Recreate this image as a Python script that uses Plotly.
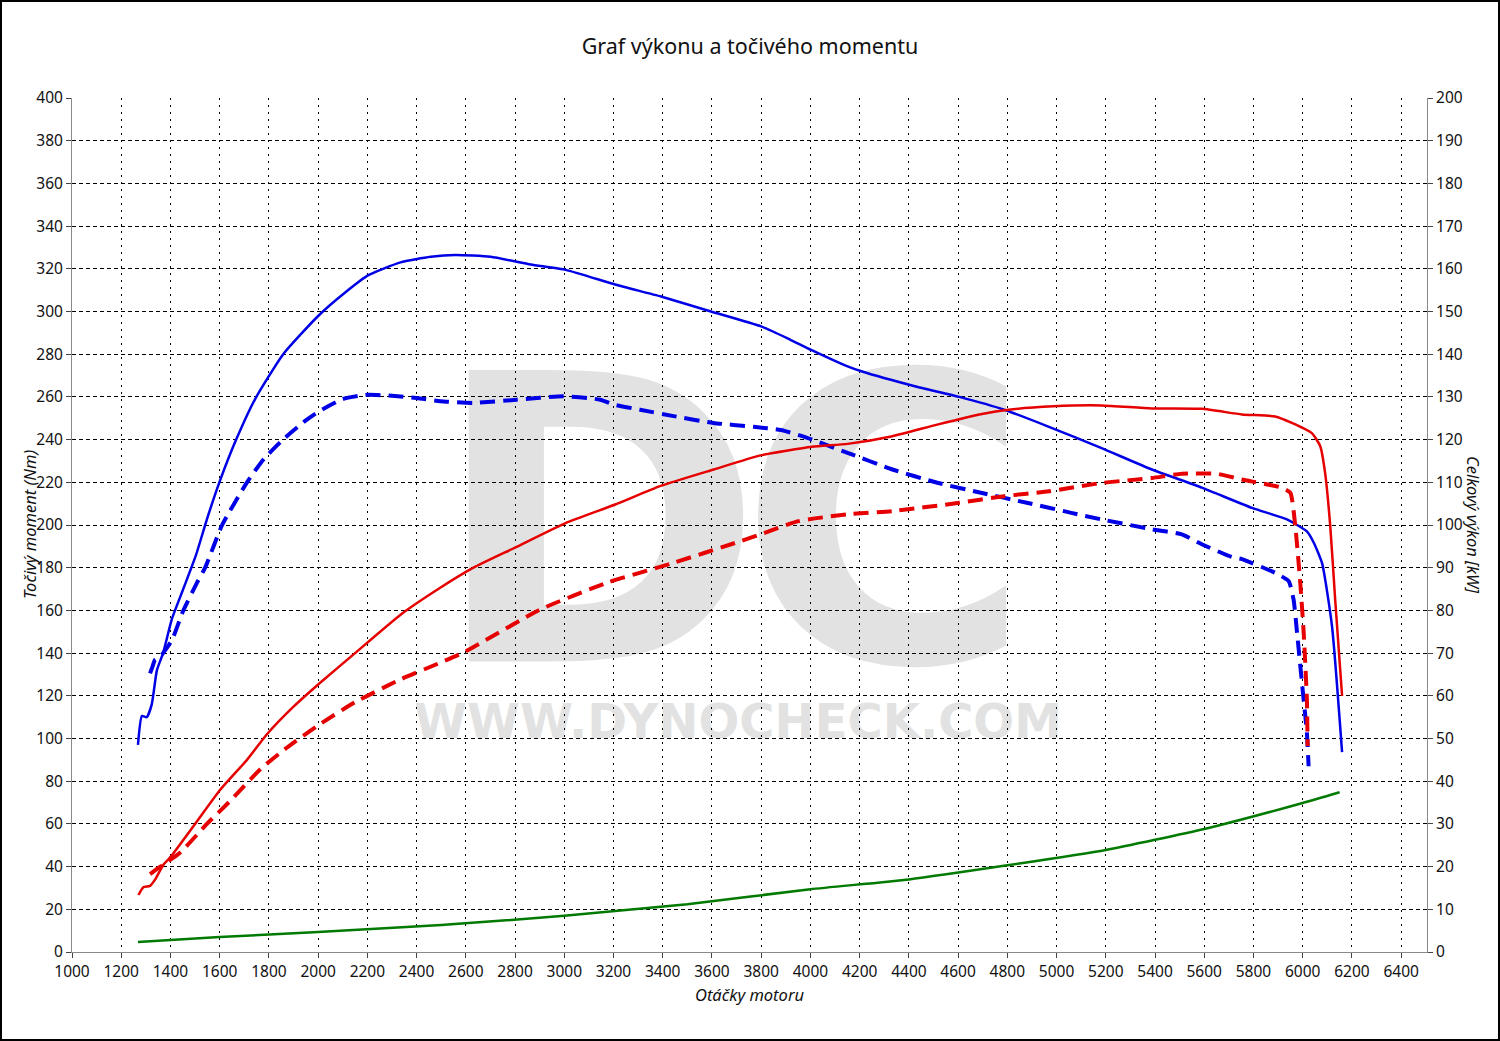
import plotly.graph_objects as go

# ---- data ----
rpm_tq_tuned = [1268, 1284, 1304, 1324, 1345, 1370, 1406, 1452, 1504, 1549, 1602, 1667, 1744, 1858,
                2001, 2111, 2204, 2335, 2457, 2558, 2701, 2864, 3006, 3210, 3393, 3596, 3800,
                3915, 4003, 4151, 4207, 4424, 4605, 4787, 4969, 5183, 5387, 5590, 5794, 5936, 6017,
                6045, 6079, 6119, 6160]
tq_tuned = [97, 110.5, 110, 116, 132, 140, 156, 170, 186, 203, 221, 240, 259, 280,
            298, 309, 317, 323, 325.6, 326.5, 325.6, 322, 319.5, 312.5, 307, 300, 293,
            287, 282, 274.3, 272, 265, 260, 254, 246, 236, 226, 217.5, 208, 202.6, 197,
            191.7, 182, 152.7, 93.6]

rpm_tq_stock = [1317, 1325, 1338, 1352, 1370, 1406, 1451, 1508, 1541, 1610, 1711, 1780, 1857, 1950,
                2000, 2100, 2200, 2300, 2400, 2496, 2631, 2807, 2996, 3146, 3200, 3308, 3444, 3606,
                3769, 3880, 3970, 4151, 4333, 4515, 4697, 4879, 5060, 5183, 5387, 5509, 5590, 5712,
                5753, 5888, 5943, 5963, 5977, 5997, 6017, 6024]
tq_stock = [130.5, 133, 137, 137.5, 140, 146, 159.6, 173, 180, 200, 220, 231, 240, 249,
            253, 259, 261, 260.5, 259.5, 258, 257.2, 258.7, 260.3, 258.7, 256.4, 254, 251, 247.8,
            246, 244.5, 241.5, 233.8, 226, 219.8, 215, 210.4, 205.7, 202.6, 198, 195.6, 191, 185,
            184, 177.6, 173.7, 165, 149.6, 126, 102.8, 87]

rpm_pw_tuned = [1270, 1290, 1317, 1338, 1372, 1399, 1494, 1602, 1711, 1792, 1901, 2007, 2150, 2335,
                2496, 2631, 2800, 3007, 3207, 3389, 3607, 3797, 4006, 4151, 4333, 4515, 4697, 4805,
                4987, 5183, 5387, 5590, 5753, 5888, 5956, 6037, 6071, 6091, 6112, 6132, 6160]
pw_tuned = [13.35, 15.15, 15.5, 17, 20.5, 22.15, 29.5, 38, 45, 51, 57.5, 63, 70, 79,
            85.3, 90, 94.7, 100.5, 104.8, 109.1, 113, 116.3, 118.3, 119, 120.8, 123.5, 126, 127,
            127.8, 128, 127.3, 127.2, 125.9, 125.4, 123.9, 121.5, 118.5, 112.2, 99.7, 82.5, 60]

rpm_pw_stock = [1317, 1340, 1372, 1440, 1548, 1643, 1765, 1874, 2007, 2150, 2335, 2496, 2589, 2904,
                3175, 3444, 3697, 3797, 3951, 4151, 4333, 4605, 4787, 4969, 5183, 5387, 5509, 5651,
                5753, 5916, 5950, 5970, 5990, 6004, 6017, 6020]
pw_stock = [18.25, 19.25, 20.5, 23.3, 30, 35.4, 42.8, 47.9, 53.35, 58.5, 63.85, 67.75, 70.1, 80.25,
            86.5, 91.15, 95.85, 97.8, 100.9, 102.5, 103.25, 105.2, 106.75, 107.9, 109.85, 111, 112, 112,
            110.65, 108.7, 107.5, 99.7, 86.5, 74.8, 59.2, 48.25]

rpm_loss = [1268, 1600, 2000, 2500, 3000, 3500, 4000, 4400, 4800, 5200, 5600, 6000, 6150]
pw_loss = [2.35, 3.5, 4.7, 6.3, 8.5, 11.2, 14.7, 17, 20.3, 23.9, 28.8, 34.9, 37.4]

x_ticks = list(range(1000, 6401, 200))

FONT = "Noto Sans, Open Sans, DejaVu Sans, sans-serif"
BLUE = "#0000e6"
RED = "#e60000"
GREEN = "#007a00"
DASH = "15px,8px"
SHAPE = "spline"
SMOOTH = 0.5

fig = go.Figure()
fig.add_trace(go.Scatter(x=rpm_pw_tuned, y=pw_tuned, yaxis="y2", mode="lines",
                         line=dict(color=RED, width=2.5, shape=SHAPE, smoothing=SMOOTH),
                         name="Výkon po úpravě"))
fig.add_trace(go.Scatter(x=rpm_pw_stock, y=pw_stock, yaxis="y2", mode="lines",
                         line=dict(color=RED, width=4, dash=DASH, shape=SHAPE, smoothing=SMOOTH),
                         name="Výkon sériový"))
fig.add_trace(go.Scatter(x=rpm_loss, y=pw_loss, yaxis="y2", mode="lines",
                         line=dict(color=GREEN, width=2.5, shape=SHAPE, smoothing=SMOOTH),
                         name="Ztrátový výkon"))
fig.add_trace(go.Scatter(x=rpm_tq_tuned, y=tq_tuned, mode="lines",
                         line=dict(color=BLUE, width=2.5, shape=SHAPE, smoothing=SMOOTH),
                         name="Moment po úpravě"))
fig.add_trace(go.Scatter(x=rpm_tq_stock, y=tq_stock, mode="lines",
                         line=dict(color=BLUE, width=4, dash=DASH, shape=SHAPE, smoothing=SMOOTH),
                         name="Moment sériový"))

L, R, T, B = 72, 73, 98, 89
W, H = 1500, 1041
pw = W - L - R
ph = H - T - B

axis_common = dict(showline=True, linecolor="#8a8a8a", linewidth=1, ticks="outside",
                   ticklen=5, tickcolor="#444", tickfont=dict(family=FONT, size=15.5, color="#111"),
                   zeroline=False)

fig.update_layout(
    width=W, height=H,
    margin=dict(l=L, r=R, t=T, b=B),
    paper_bgcolor="white", plot_bgcolor="white",
    showlegend=False,
    font=dict(family=FONT, color="#111"),
    title=dict(text="Graf výkonu a točivého momentu", x=0.5, xanchor="center",
               y=1 - 46 / H, yanchor="middle", yref="container",
               font=dict(family=FONT, size=21.5, color="#111")),
    xaxis=dict(range=[1000, 6505], tickvals=x_ticks, showgrid=True, gridcolor="black",
               gridwidth=1, griddash="2px,5px", **axis_common),
    yaxis=dict(range=[0, 400], dtick=20, showgrid=True, gridcolor="black", gridwidth=1,
               griddash="4px,3px", **axis_common),
    yaxis2=dict(range=[0, 200], dtick=10, overlaying="y", side="right", showgrid=False,
                **axis_common),
)

# axis titles
TITLE_FONT = dict(family=FONT, size=16.5, color="#111", style="italic")
fig.add_annotation(text="Točivý moment (Nm)", xref="paper", yref="paper", x=0, y=0.5,
                   xanchor="center", yanchor="middle",
                   xshift=-(L - 29), textangle=-90, showarrow=False, font=TITLE_FONT)
fig.add_annotation(text="Celkový výkon [kW]", xref="paper", yref="paper", x=1, y=0.5,
                   xanchor="center", yanchor="middle",
                   xshift=47, textangle=90, showarrow=False, font=TITLE_FONT)
fig.add_annotation(text="Otáčky motoru", xref="paper", yref="paper", x=0.5, y=0,
                   xanchor="center", yshift=-42, yanchor="middle", showarrow=False,
                   font=TITLE_FONT)

# watermark (below grid)
def px_x(p):
    return (p - L) / pw

def px_y(p):
    return 1 - (p - T) / ph

WM_FONT = "DejaVu Sans, sans-serif"
WM_COLOR = "#e2e2e2"
for letter, xa, xb in (("D", 463, 733), ("C", 745, 1025)):
    fig.add_shape(type="rect", xref="paper", yref="paper", layer="below",
                  x0=px_x(xa), x1=px_x(xb), y0=px_y(656), y1=px_y(332),
                  line=dict(width=0), fillcolor="rgba(0,0,0,0)",
                  label=dict(text=letter, textposition="middle center",
                             font=dict(family=WM_FONT, size=400, color=WM_COLOR, weight="bold")))
fig.add_shape(type="rect", xref="paper", yref="paper", layer="below",
              x0=px_x(400), x1=px_x(1076), y0=px_y(745), y1=px_y(690),
              line=dict(width=0), fillcolor="rgba(0,0,0,0)",
              label=dict(text="WWW.DYNOCHECK.COM", textposition="middle center",
                         font=dict(family=WM_FONT, size=48, color=WM_COLOR, weight="bold")))

# outer border
fig.add_shape(type="rect", xref="paper", yref="paper", layer="above",
              x0=-(L - 1) / pw, x1=1 + (R - 1) / pw, y0=-(B - 1) / ph, y1=1 + (T - 1) / ph,
              line=dict(color="black", width=2), fillcolor="rgba(0,0,0,0)")

fig.write_html("out.html", config={"displayModeBar": False},
               post_script="document.body.style.margin='0px';")
